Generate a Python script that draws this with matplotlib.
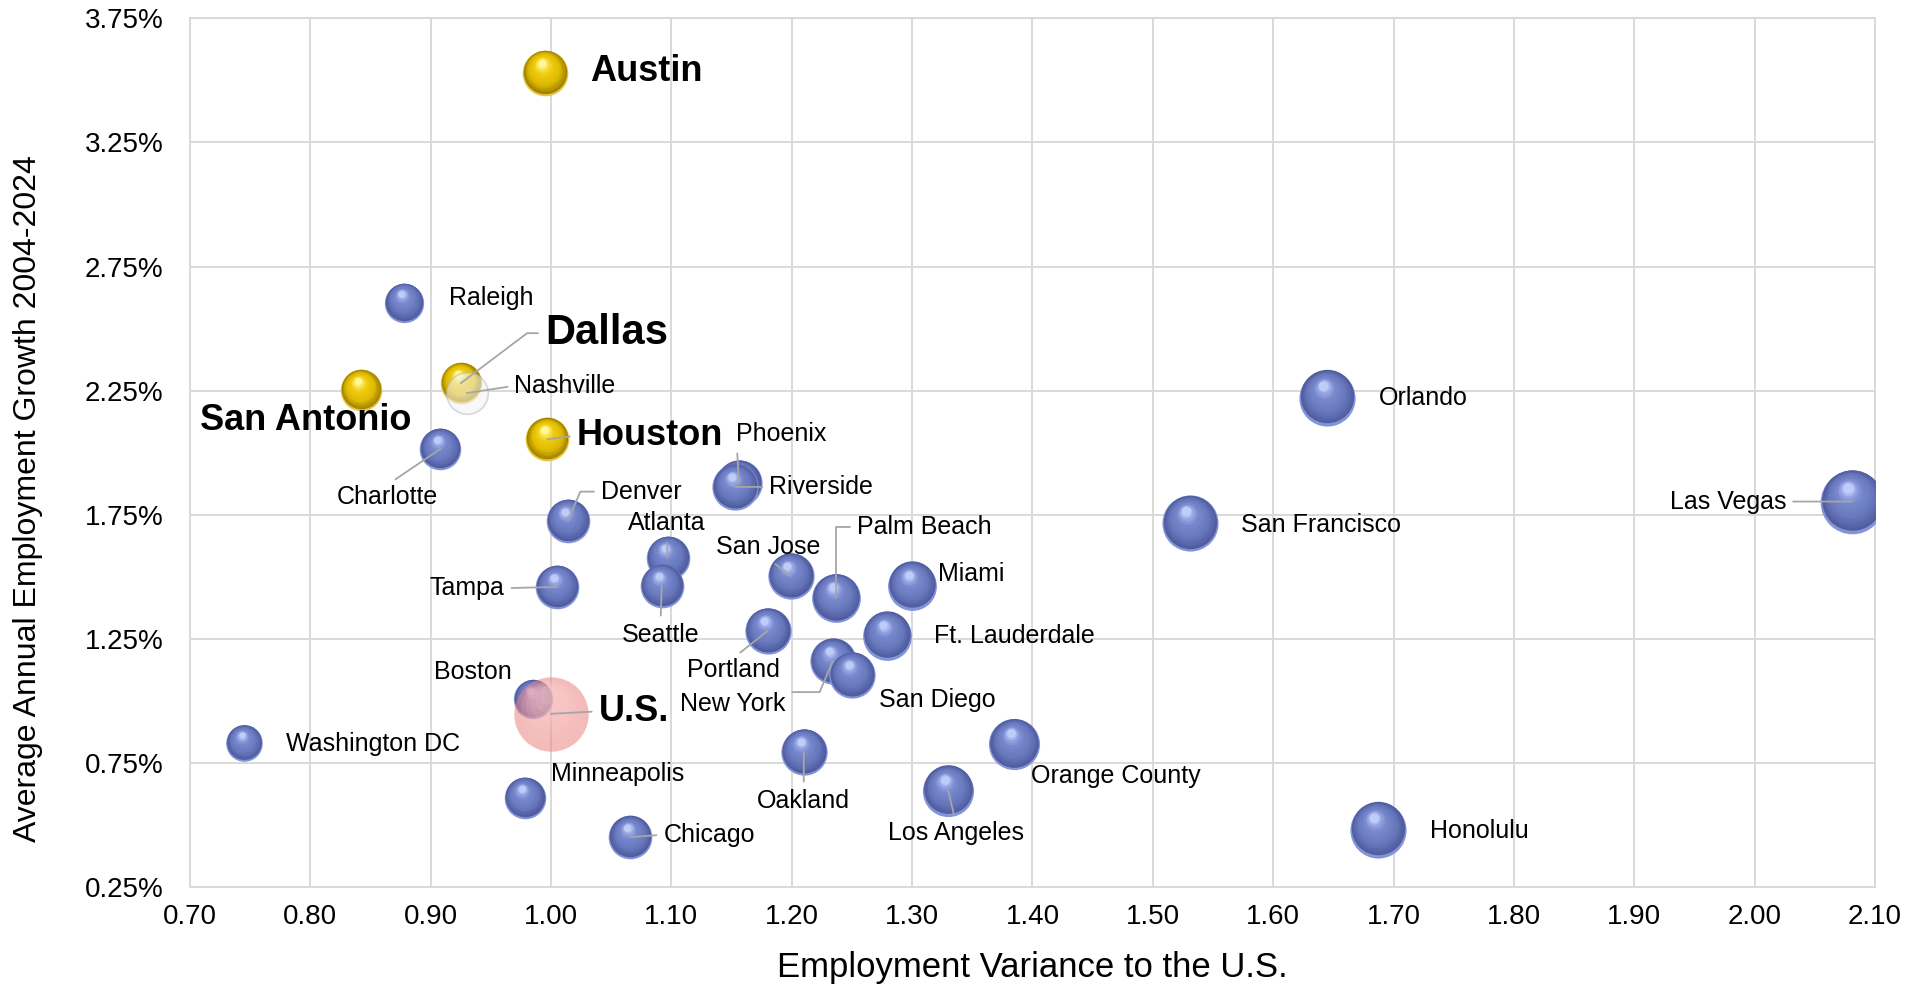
import numpy as np
import matplotlib
matplotlib.use("Agg")
import matplotlib.pyplot as plt
from matplotlib.transforms import offset_copy
from matplotlib.colors import to_rgb
from matplotlib.ticker import FuncFormatter, MultipleLocator, FixedLocator

plt.rcParams['font.family'] = ['Liberation Sans', 'DejaVu Sans']

# metros: employment variance to U.S. (x), avg annual growth 2004-2024 in % (y), bubble size
cities = ["Austin", "Raleigh", "Dallas", "San Antonio", "Houston", "Charlotte",
          "Phoenix", "Riverside", "Denver", "Atlanta", "Seattle", "Tampa",
          "San Jose", "Palm Beach", "Miami", "Portland", "Ft. Lauderdale",
          "New York", "San Diego", "Boston", "Washington DC", "Minneapolis",
          "Oakland", "Orange County", "Los Angeles", "Chicago", "Honolulu",
          "Orlando", "San Francisco", "Las Vegas", "Nashville", "U.S."]
variance = [0.995, 0.878, 0.925, 0.842, 0.997, 0.908,
            1.156, 1.153, 1.014, 1.097, 1.092, 1.005,
            1.199, 1.237, 1.300, 1.180, 1.279,
            1.234, 1.250, 0.985, 0.745, 0.978,
            1.210, 1.385, 1.330, 1.066, 1.687,
            1.645, 1.531, 2.081, 0.930, 1.000]
growth = [3.53, 2.605, 2.28, 2.251, 2.054, 2.015,
          1.877, 1.862, 1.725, 1.577, 1.464, 1.459,
          1.503, 1.415, 1.464, 1.282, 1.263,
          1.159, 1.105, 1.007, 0.830, 0.609,
          0.795, 0.825, 0.638, 0.451, 0.481,
          2.221, 1.715, 1.803, 2.24, 0.948]
bubble = [3.5, 2.6, 2.9, 2.9, 3.2, 2.9,
          3.6, 3.6, 3.2, 3.2, 3.2, 3.2,
          3.6, 4.0, 4.0, 3.6, 4.0,
          3.6, 3.6, 2.6, 2.25, 2.9,
          3.6, 4.4, 4.4, 3.2, 5.3,
          5.3, 5.3, 6.8, 2.9, 9.3]
texas = ["Austin", "Dallas", "San Antonio", "Houston"]
yticks = [0.25, 0.75, 1.25, 1.75, 2.25, 2.75, 3.25, 3.75]

# label placement: (dx, dy) offset in screen px from bubble, text anchor, leader style
labels = {
    "Austin": (37, 1, 'left', None),
    "Raleigh": (37, 4, 'left', None),
    "Dallas": (69, 41, 'left', 37),
    "Nashville": (39, 6, 'left', 'straight'),
    "San Antonio": (-45, -25, 'center', None),
    "Houston": (24, 3, 'left', 'straight'),
    "Charlotte": (-43, -39, 'center', 'straight'),
    "Phoenix": (-2, 40, 'left', 'straight'),
    "Riverside": (28, 0, 'left', 'straight'),
    "Denver": (27, 24, 'left', 67),
    "Atlanta": (-1, 28, 'center', 'straight'),
    "Seattle": (-1, -40, 'center', 'straight'),
    "Tampa": (-43, -1, 'right', 'straight'),
    "San Jose": (-18, 24, 'center', 'straight'),
    "Palm Beach": (17, 58, 'left', 90),
    "Miami": (21, 10, 'left', None),
    "Portland": (-28, -32, 'center', 'straight'),
    "Ft. Lauderdale": (39, 0, 'left', None),
    "New York": (-82, -35, 'center', 67),
    "San Diego": (22, -21, 'left', None),
    "Boston": (-49, 22, 'center', None),
    "U.S.": (39, 2, 'left', 'straight'),
    "Washington DC": (34, -1, 'left', None),
    "Minneapolis": (22, 20, 'left', None),
    "Oakland": (0, -40, 'center', 'straight'),
    "Orange County": (14, -26, 'left', None),
    "Los Angeles": (6, -35, 'center', 'straight'),
    "Chicago": (27, 2, 'left', 'straight'),
    "Honolulu": (43, -1, 'left', None),
    "Orlando": (42, 0, 'left', None),
    "San Francisco": (42, -1, 'left', None),
    "Las Vegas": (-54, 0, 'right', 'straight'),
}

PX = 1.22 * 0.72  # shown px -> points

fig = plt.figure(figsize=(19.13, 9.86), dpi=100)
ax = fig.add_axes([0.0993, 0.1004, 0.8808, 0.881])
ax.set_xlim(0.70, 2.10)
ax.set_ylim(0.25, 3.75)
ax.xaxis.set_major_locator(MultipleLocator(0.1))
ax.yaxis.set_major_locator(FixedLocator(yticks))
ax.xaxis.set_major_formatter(FuncFormatter(lambda v, p: f"{v:.2f}"))
ax.yaxis.set_major_formatter(FuncFormatter(lambda v, p: f"{v:.2f}%"))
ax.grid(True, color='#d9d9d9', lw=1.4, zorder=0)
ax.set_axisbelow(True)
for sp in ax.spines.values():
    sp.set_color('#d9d9d9')
    sp.set_linewidth(1.4)
ax.tick_params(length=0, labelsize=20)
ax.tick_params(axis='y', pad=19)
ax.tick_params(axis='x', pad=12)
ax.set_xlabel("Employment Variance to the U.S.", fontsize=25, labelpad=15)
ax.set_ylabel("Average Annual Employment Growth 2004-2024", fontsize=23)
ax.yaxis.set_label_coords(-0.087, 0.447)

# rim, dark base -> body -> highlight
blue_stops = [(0.0, '#4f5c9e'), (0.3, '#6777bc'), (0.7, '#7888cc'), (0.9, '#98a8e6'), (1.0, '#bfccf8')]
gold_stops = [(0.0, '#a08200'), (0.3, '#ddb800'), (0.7, '#efcc10'), (0.9, '#fbe54a'), (1.0, '#fff59a')]
blue_rim = '#8494d8'
gold_rim = '#e6c640'


def grad(stops, t):
    for (t0, c0), (t1, c1) in zip(stops[:-1], stops[1:]):
        if t <= t1:
            f = (t - t0) / (t1 - t0)
            a, b = np.array(to_rgb(c0)), np.array(to_rgb(c1))
            return tuple(a + (b - a) * f)
    return to_rgb(stops[-1][1])


def sphere(x, y, R, stops, rim, z=3, n=18):
    ax.scatter([x], [y], s=(2 * R) ** 2, color=rim, lw=0, zorder=z)
    for i in range(n):
        t = i / (n - 1)
        r = R * (0.95 - 0.78 * t)
        tr = offset_copy(ax.transData, fig=fig, x=-0.14 * R * t,
                         y=0.05 * R + 0.38 * R * t, units='points')
        ax.scatter([x], [y], s=(2 * r) ** 2, color=grad(stops, t),
                   lw=0, transform=tr, zorder=z)


for c, x, y, b in zip(cities, variance, growth, bubble):
    R = np.sqrt(b) * 10 * PX
    if c == "U.S.":
        ax.scatter([x], [y], s=(2 * R) ** 2, color='#ec8484', alpha=0.55, lw=0, zorder=5)
        for k in range(5):
            r = R * (0.8 - 0.14 * k)
            tr = offset_copy(ax.transData, fig=fig, x=-0.08 * R * (k + 1) / 5,
                             y=0.1 * R * (k + 1), units='points')
            ax.scatter([x], [y], s=(2 * r) ** 2, color='#ffd4d4', alpha=0.14,
                       lw=0, transform=tr, zorder=5)
    elif c == "Nashville":
        ax.scatter([x], [y], s=(2 * R) ** 2, color='#f4f4f8', alpha=0.55,
                   edgecolor='#b8b8c4', lw=1.2, zorder=4)
    elif c in texas:
        sphere(x, y, R, gold_stops, gold_rim)
    else:
        sphere(x, y, R, blue_stops, blue_rim)

# labels and leader lines
for c, x, y in zip(cities, variance, growth):
    dx, dy, ha, lead = labels[c]
    big = c in texas or c == "U.S."
    fs = 30 if c == "Dallas" else (26 if big else 18)
    rel = {'left': (0, 0.5), 'right': (1, 0.5), 'center': (0.5, 0.0 if dy > 0 else 1.0)}[ha]
    ap = None
    if lead is not None:
        ap = dict(arrowstyle='-', color='#a6a6a6', lw=1.3, shrinkA=3, shrinkB=0, relpos=rel)
        if lead != 'straight':
            ap['connectionstyle'] = f"angle,angleA=0,angleB={lead},rad=0"
    ax.annotate(c, xy=(x, y), xytext=(dx * PX, dy * PX), textcoords='offset points',
                ha=ha, va='center', fontsize=fs, fontweight='bold' if big else 'normal',
                color='black', arrowprops=ap, zorder=6)

fig.savefig("out.png", dpi=100)
